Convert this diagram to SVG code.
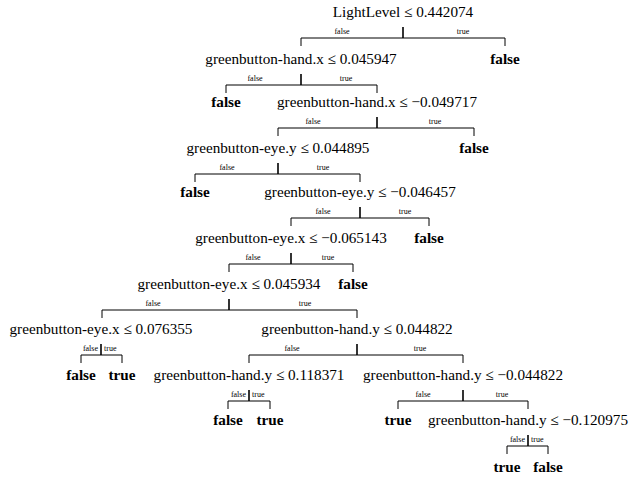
<svg xmlns="http://www.w3.org/2000/svg" width="631" height="477" viewBox="0 0 631 477">
<style>
.t{font-family:"Liberation Serif","Times New Roman",serif;font-size:15.2px;fill:#000;text-anchor:middle}
.b{font-family:"Liberation Serif","Times New Roman",serif;font-size:15.2px;font-weight:bold;fill:#000;text-anchor:middle}
.e{font-family:"Liberation Serif","Times New Roman",serif;font-size:8px;fill:#000;text-anchor:middle}
.en{text-anchor:end}
.st{text-anchor:start}
.bar{fill:none;stroke:#000;stroke-width:1}
.stem{fill:none;stroke:#000;stroke-width:1.6}
</style>
<rect width="631" height="477" fill="#fff"/>
<g id="connectors">
<path class="stem" d="M403 27V38"/><path class="bar" d="M301 46V38H505V46"/>
<text class="e" x="342" y="33.5">false</text><text class="e" x="463" y="33.5">true</text>
<path class="stem" d="M301 74V85"/><path class="bar" d="M226 93V85H377V93"/>
<text class="e" x="255" y="80.5">false</text><text class="e" x="346" y="80.5">true</text>
<path class="stem" d="M377 117V128"/><path class="bar" d="M278 136V128H474V136"/>
<text class="e" x="313" y="123.5">false</text><text class="e" x="435" y="123.5">true</text>
<path class="stem" d="M278 163V174"/><path class="bar" d="M195 182V174H360V182"/>
<text class="e" x="227" y="169.5">false</text><text class="e" x="323" y="169.5">true</text>
<path class="stem" d="M360 207V218"/><path class="bar" d="M291 226V218H429V226"/>
<text class="e" x="323" y="213.5">false</text><text class="e" x="405" y="213.5">true</text>
<path class="stem" d="M291 253V264"/><path class="bar" d="M229 272V264H353V272"/>
<text class="e" x="253" y="259.5">false</text><text class="e" x="328" y="259.5">true</text>
<path class="stem" d="M229 299V310"/><path class="bar" d="M102 318V310H357V318"/>
<text class="e" x="153" y="305.5">false</text><text class="e" x="305" y="305.5">true</text>
<path class="stem" d="M101 344V355"/><path class="bar" d="M81 363V355H122V363"/>
<text class="e en" x="98" y="350.5">false</text><text class="e st" x="104" y="350.5">true</text>
<path class="stem" d="M357 344V355"/><path class="bar" d="M249 363V355H463V363"/>
<text class="e" x="292" y="350.5">false</text><text class="e" x="420" y="350.5">true</text>
<path class="stem" d="M249 390V401"/><path class="bar" d="M228 409V401H270V409"/>
<text class="e en" x="246" y="396.5">false</text><text class="e st" x="252" y="396.5">true</text>
<path class="stem" d="M463 390V401"/><path class="bar" d="M398 409V401H528V409"/>
<text class="e" x="423" y="396.5">false</text><text class="e" x="502" y="396.5">true</text>
<path class="stem" d="M528 435V446"/><path class="bar" d="M507 454V446H548V454"/>
<text class="e en" x="525" y="441.5">false</text><text class="e st" x="531" y="441.5">true</text>
</g>
<g id="n0"><text class="t" x="403" y="17">LightLevel ≤ 0.442074</text></g>
<g id="n1"><text class="t" x="301" y="64">greenbutton-hand.x ≤ 0.045947</text></g>
<g id="n2"><text class="b" x="505" y="64">false</text></g>
<g id="n3"><text class="b" x="226" y="107">false</text></g>
<g id="n4"><text class="t" x="377" y="107">greenbutton-hand.x ≤ −0.049717</text></g>
<g id="n5"><text class="t" x="278" y="153">greenbutton-eye.y ≤ 0.044895</text></g>
<g id="n6"><text class="b" x="474" y="153">false</text></g>
<g id="n7"><text class="b" x="195" y="197">false</text></g>
<g id="n8"><text class="t" x="360" y="197">greenbutton-eye.y ≤ −0.046457</text></g>
<g id="n9"><text class="t" x="291" y="243">greenbutton-eye.x ≤ −0.065143</text></g>
<g id="n10"><text class="b" x="429" y="243">false</text></g>
<g id="n11"><text class="t" x="229" y="289">greenbutton-eye.x ≤ 0.045934</text></g>
<g id="n12"><text class="b" x="353" y="289">false</text></g>
<g id="n13"><text class="t" x="101" y="334">greenbutton-eye.x ≤ 0.076355</text></g>
<g id="n14"><text class="t" x="357" y="334">greenbutton-hand.y ≤ 0.044822</text></g>
<g id="n15"><text class="b" x="81" y="380">false</text></g>
<g id="n16"><text class="b" x="122" y="380">true</text></g>
<g id="n17"><text class="t" x="249" y="380">greenbutton-hand.y ≤ 0.118371</text></g>
<g id="n18"><text class="t" x="463" y="380">greenbutton-hand.y ≤ −0.044822</text></g>
<g id="n19"><text class="b" x="228" y="425">false</text></g>
<g id="n20"><text class="b" x="270" y="425">true</text></g>
<g id="n21"><text class="b" x="398" y="425">true</text></g>
<g id="n22"><text class="t" x="528" y="425">greenbutton-hand.y ≤ −0.120975</text></g>
<g id="n23"><text class="b" x="507" y="472">true</text></g>
<g id="n24"><text class="b" x="548" y="472">false</text></g>
</svg>
